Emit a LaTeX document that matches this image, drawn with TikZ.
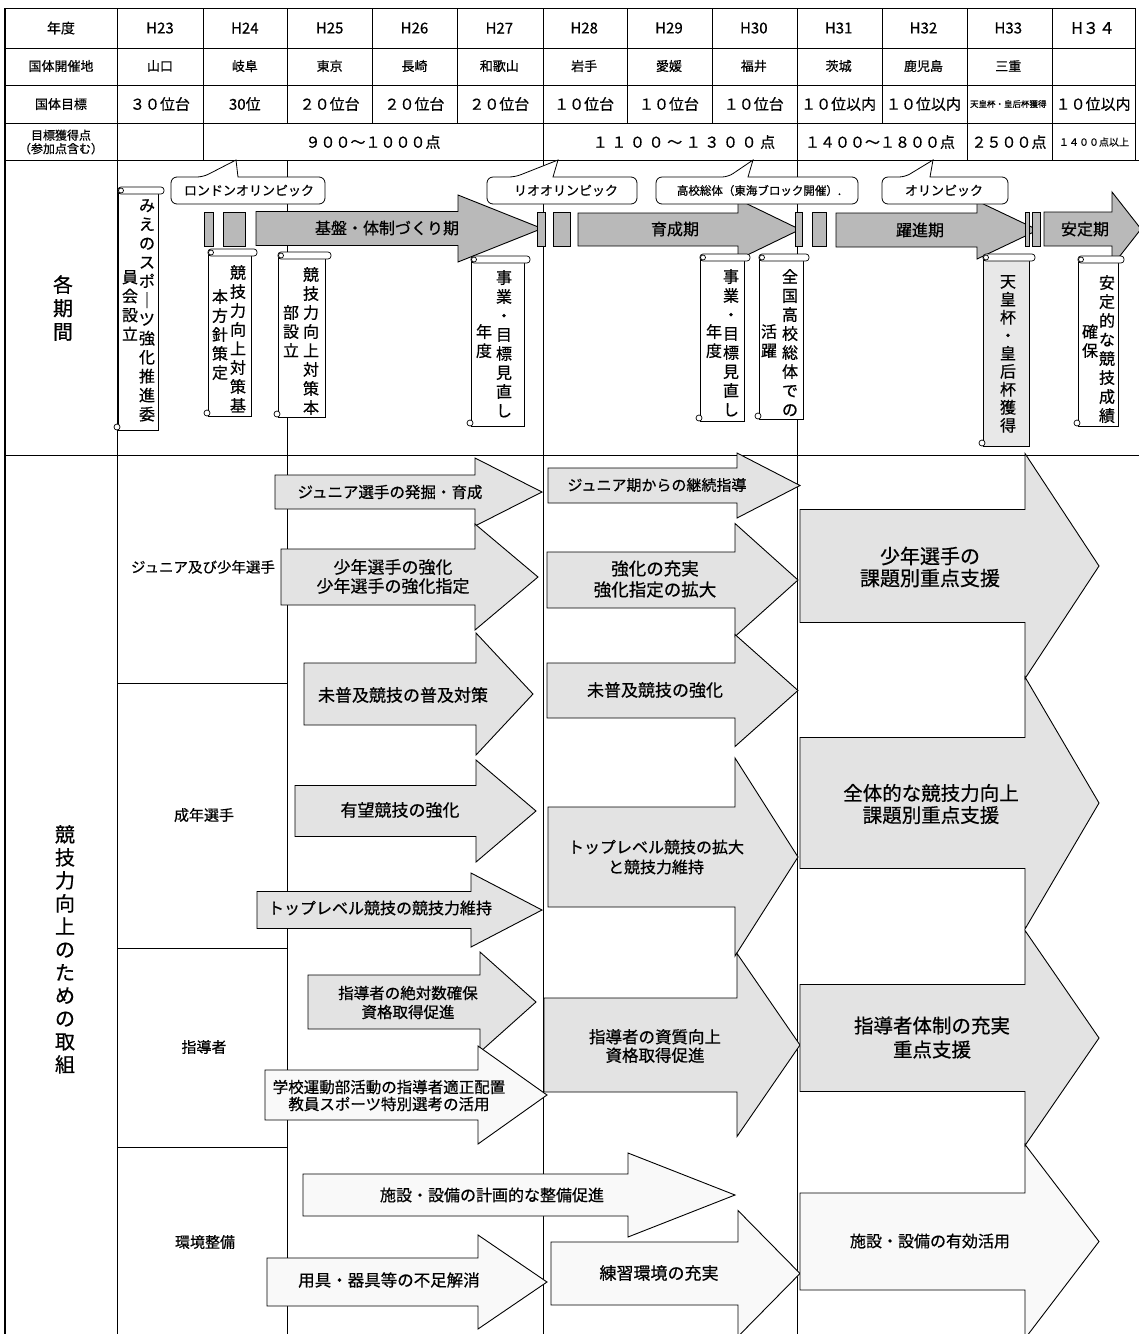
\documentclass[tikz,border=0pt]{standalone}
\usepackage{fontspec}
\setmainfont{Noto Sans CJK JP}[FakeBold=0.6]
\usetikzlibrary{positioning}

\tikzset{
  rule/.style={line width=0.7pt},
  heavy/.style={line width=2.4pt},
  txt/.style 2 args={inner sep=0pt, align=center, font=\fontsize{#1}{#2}\selectfont},
  cell/.style={txt={15}{17}},
  site/.style={txt={13}{15}},
  vert/.style={txt={16}{19}, anchor=north},
  period/.style={draw, line width=0.9pt, fill=gray!55},
  plan/.style={draw, line width=0.9pt, fill=gray!22},
  plain/.style={draw, line width=0.9pt, fill=gray!5},
  callout/.style={draw, line width=0.8pt, fill=white},
  scrollbox/.style={draw, line width=0.7pt, fill=white},
}

% arrow: [style]{shaft start}{head start}{tip}{mid y}{half shaft}{half head}
\newcommand\planarrow[7][plan]{%
  \draw[#1] (#2,{#5-#6}) -- (#3,{#5-#6}) -- (#3,{#5-#7}) -- (#4,#5)
    -- (#3,{#5+#7}) -- (#3,{#5+#6}) -- (#2,{#5+#6}) -- cycle;}

% scroll: {left}{top}{right}{bottom}{fill}
\newcommand\scrollnote[5]{%
  \draw[scrollbox, fill=#5] (#1,#2) rectangle (#3,#4);
  \draw[scrollbox, rounded corners=3pt] (#1,{#2-6}) rectangle ({#3+6},{#2+1});
  \draw[scrollbox] ({#1+3},{#2-2.5}) circle (2.5pt);
  \draw[scrollbox] ({#1-1},{#4-3}) circle (3pt);}

% speech box: {left}{right}{tail left}{tip x}{tail right}
\newcommand\callbox[5]{%
  \draw[callout] (#4,160) -- (#5,177) [rounded corners=6pt] -- (#2,177) -- (#2,204)
    -- (#1,204) -- (#1,177) -- (#3,177) [sharp corners] -- cycle;}

\begin{document}
\begin{tikzpicture}[x=1pt, y=-1pt, node distance=38pt and 84.83pt, on grid]
\useasboundingbox (0,0) rectangle (1139,1334);
\clip (0,0) rectangle (1139,1334);

% grid
\draw[rule] (5,8) -- (1135,8) (5,48) -- (1135,48) (5,85) -- (1135,85)
  (5,123) -- (1135,123) (5,160) -- (1139,160) (5,455) -- (1139,455)
  (1135,8) -- (1135,160);
\draw[rule] (117,8) -- (117,1334) (203,8) -- (203,160) (287,8) -- (287,123)
  (287,160) -- (287,1334) (372,8) -- (372,123) (457,8) -- (457,123)
  (543,8) -- (543,1334) (627,8) -- (627,123) (712,8) -- (712,123)
  (797,8) -- (797,1334) (882,8) -- (882,123) (967,8) -- (967,160)
  (1052,8) -- (1052,160);
\draw[rule] (117,683) -- (287,683) (117,948) -- (287,948) (117,1147) -- (287,1147);
\draw[heavy] (5,8) -- (5,1334);

% table
\node[txt={14}{16}] (nendo) at (61,28) {年度};
\node[cell] (h23) at (160,28) {H23};
\node[cell, right=of h23] (h24) {H24};
\node[cell, right=of h24] (h25) {H25};
\node[cell, right=of h25] (h26) {H26};
\node[cell, right=of h26] (h27) {H27};
\node[cell, right=of h27] (h28) {H28};
\node[cell, right=of h28] (h29) {H29};
\node[cell, right=of h29] (h30) {H30};
\node[cell, right=of h30] (h31) {H31};
\node[cell, right=of h31] (h32) {H32};
\node[cell, right=of h32] (h33) {H33};
\node[txt={16}{18}, right=of h33] (h34) {H３４};

\node[site, below=of nendo] (kaisaichi) {国体開催地};
\node[site, below=of h23] (yamaguchi) {山口};
\node[site, below=of h24] (gifu) {岐阜};
\node[site, below=of h25] (tokyo) {東京};
\node[site, below=of h26] (nagasaki) {長崎};
\node[site, below=of h27] (wakayama) {和歌山};
\node[site, below=of h28] (iwate) {岩手};
\node[site, below=of h29] (ehime) {愛媛};
\node[site, below=of h30] (fukui) {福井};
\node[site, below=of h31] (ibaraki) {茨城};
\node[site, below=of h32] (kagoshima) {鹿児島};
\node[site, below=of h33] (mie) {三重};

\node[site, below=of kaisaichi] (mokuhyo) {国体目標};
\node[cell, below=of yamaguchi] (g23) {３０位台};
\node[cell, below=of gifu] (g24) {30位};
\node[cell, below=of tokyo] (g25) {２０位台};
\node[cell, below=of nagasaki] (g26) {２０位台};
\node[cell, below=of wakayama] (g27) {２０位台};
\node[cell, below=of iwate] (g28) {１０位台};
\node[cell, below=of ehime] (g29) {１０位台};
\node[cell, below=of fukui] (g30) {１０位台};
\node[cell, below=of ibaraki] (g31) {１０位以内};
\node[cell, below=of kagoshima] (g32) {１０位以内};
\node[txt={8.5}{10}, below=of mie] (g33) {天皇杯・皇后杯獲得};
\node[cell, below=76pt of h34] (g34) {１０位以内};

\node[txt={12}{13.5}, below=of mokuhyo] (tokuten) {目標獲得点\\（参加点含む）};
\node[cell] (pt1) at (373,142) {９００～１０００点};
\node[txt={15}{17}, font=\fontsize{15}{17}\selectfont\addfontfeature{LetterSpace=24}] (pt2) at (684,142) {１１００～１３００点};
\node[cell] (pt3) at (880,142) {１４００～１８００点};
\node[cell] (pt4) at (1009,142) {２５００点};
\node[txt={10}{12}] (pt5) at (1094,142) {１４００点以上};

% periods
\planarrow[period]{256}{458}{542}{228.5}{17}{33.5}
\planarrow[period]{578}{738}{800}{229.5}{16.5}{30}
\planarrow[period]{836}{977}{1038}{230}{17}{29}
\planarrow[period]{1044}{1112}{1141}{229}{17}{37}
\draw[period] (204,212) rectangle (213,246) (223,212) rectangle (245,246)
  (537,212) rectangle (545,246) (553,212) rectangle (570,246)
  (795,212) rectangle (802,246) (812,212) rectangle (826,246)
  (1025,212) rectangle (1029,246) (1032,212) rectangle (1040,246);
\node[txt={16}{18}] (kiban) at (387,228) {基盤・体制づくり期};
\node[txt={16}{18}] (ikusei) at (675,229) {育成期};
\node[txt={16}{18}] (yakushin) at (920,230) {躍進期};
\node[txt={16}{18}] (anteiki) at (1085,229) {安定期};

\callbox{171}{325}{203}{236}{238}
\callbox{487}{637}{515}{558}{553}
\callbox{656}{858}{728}{753}{748}
\callbox{882}{1008}{905}{933}{930}
\node[txt={13}{15}] (london) at (249,190.5) {ロンドンオリンピック};
\node[txt={13}{15}] (rio) at (566,190.5) {リオオリンピック};
\node[txt={11.5}{13}] (kokosotai) at (759,190.5) {高校総体（東海ブロック開催）.};
\node[txt={13}{15}] (olympic) at (944,190.5) {オリンピック};

\scrollnote{118}{193}{158}{430}{white}
\scrollnote{208}{255}{251}{416}{white}
\scrollnote{278}{258}{325}{417}{white}
\scrollnote{471}{262}{524}{426}{white}
\scrollnote{700}{260}{744}{421}{white}
\scrollnote{759}{260}{803}{419}{white}
\scrollnote{983}{260}{1029}{446}{gray!18}
\scrollnote{1078}{262}{1118}{426}{white}
\node[vert] (suishin1) at (147,199) {み\\え\\の\\ス\\ポ\\｜\\ツ\\強\\化\\推\\進\\委};
\node[vert] (suishin2) at (130,270) {員\\会\\設\\立};
\node[vert] (kihon1) at (238,265) {競\\技\\力\\向\\上\\対\\策\\基};
\node[vert] (kihon2) at (220,289) {本\\方\\針\\策\\定};
\node[vert] (honbu1) at (311,267) {競\\技\\力\\向\\上\\対\\策\\本};
\node[vert] (honbu2) at (291,305) {部\\設\\立};
\node[vert] (minaoshi1) at (504,270) {事\\業\\・\\目\\標\\見\\直\\し};
\node[vert] (minaoshi2) at (484,324) {年\\度};
\node[vert] (minaoshi3) at (731,269) {事\\業\\・\\目\\標\\見\\直\\し};
\node[vert] (minaoshi4) at (714,324) {年\\度};
\node[vert] (katsuyaku1) at (790,269) {全\\国\\高\\校\\総\\体\\で\\の};
\node[vert] (katsuyaku2) at (769,324) {活\\躍};
\node[vert, font=\fontsize{16}{18}\selectfont] (tennohai) at (1008,275) {天\\皇\\杯\\・\\皇\\后\\杯\\獲\\得};
\node[vert] (seiseki1) at (1107,275) {安\\定\\的\\な\\競\\技\\成\\績};
\node[vert] (seiseki2) at (1090,324) {確\\保};

% row labels
\node[txt={20}{23.5}, anchor=north] (kakukikan) at (63,275) {各\\期\\間};
\node[txt={20}{23}, anchor=north] (torikumi) at (65,825) {競\\技\\力\\向\\上\\の\\た\\め\\の\\取\\組};
\node[txt={14.5}{17}] (junior) at (203,567) {ジュニア及び少年選手};
\node[txt={15}{17}] (seinen) at (204,815) {成年選手};
\node[txt={15}{17}] (shidosha) at (204,1047) {指導者};
\node[txt={15}{17}] (kankyo) at (205,1242) {環境整備};

% H23-H27
\planarrow{275}{475}{542}{492}{17}{34}
\planarrow{281}{475}{538}{577}{28}{53}
\planarrow{304}{476}{533}{694}{31}{61}
\planarrow{295}{476}{536}{811}{25.5}{51}
\planarrow{257}{471}{542}{910}{18.5}{37}
\planarrow{308}{480}{536}{1002}{27}{50}
\planarrow[plain]{265}{478}{547}{1095}{25}{49}
\planarrow[plain]{303}{628}{735}{1195}{21}{42}
\planarrow[plain]{267}{478}{547}{1282}{24}{47}
\node[txt={15.5}{18}] (hakkutsu) at (390,492) {ジュニア選手の発掘・育成};
\node[txt={17}{19}] (shonen) at (393,576.5) {少年選手の強化\\少年選手の強化指定};
\node[txt={17}{19}] (fukyu) at (403,695) {未普及競技の普及対策};
\node[txt={17}{19}] (yubo) at (400,810) {有望競技の強化};
\node[txt={16}{18}] (iji) at (380,908) {トップレベル競技の競技力維持};
\node[txt={15.5}{19}] (zettaisu) at (408,1002.5) {指導者の絶対数確保\\資格取得促進};
\node[txt={15.5}{17}] (bukatsu) at (389,1095.5) {学校運動部活動の指導者適正配置\\教員スポーツ特別選考の活用};
\node[txt={16}{18}] (seibi) at (492,1195) {施設・設備の計画的な整備促進};
\node[txt={16.5}{18}] (yogu) at (389,1280) {用具・器具等の不足解消};

% H28-H30
\planarrow{548}{737}{800}{485.5}{17.5}{32.5}
\planarrow{547}{735}{798}{580}{28}{56.5}
\planarrow{547}{735}{798}{690.5}{27.5}{56}
\planarrow{548}{735}{798}{857}{50}{99}
\planarrow{544}{737}{800}{1045}{47}{91.5}
\planarrow[plain]{551}{738}{800}{1273.5}{31.5}{63}
\node[txt={15}{17}] (keizoku) at (657,485) {ジュニア期からの継続指導};
\node[txt={17.5}{21}] (jujitsu) at (655,579) {強化の充実\\強化指定の拡大};
\node[txt={17}{19}] (kyoka) at (655,690) {未普及競技の強化};
\node[txt={16}{20}] (kakudai) at (656,857) {トップレベル競技の拡大\\と競技力維持};
\node[txt={16.5}{18.5}] (shishitsu) at (655,1046) {指導者の資質向上\\資格取得促進};
\node[txt={17}{19}] (renshu) at (659,1273) {練習環境の充実};

% H31-H34
\planarrow{800}{1025}{1099}{566}{56.5}{112.5}
\planarrow{800}{1025}{1099}{803}{65.5}{126}
\planarrow{800}{1025}{1099}{1038}{53.5}{107.5}
\planarrow[plain]{800}{1025}{1099}{1241.5}{48.5}{97}
\node[txt={20}{22}] (kadai) at (930,567) {少年選手の\\課題別重点支援};
\node[txt={19.5}{22}] (zentai) at (931,804) {全体的な競技力向上\\課題別重点支援};
\node[txt={19.5}{24}] (taisei) at (932,1037.5) {指導者体制の充実\\重点支援};
\node[txt={16}{18}] (katsuyo) at (930,1241) {施設・設備の有効活用};
\end{tikzpicture}
\end{document}
